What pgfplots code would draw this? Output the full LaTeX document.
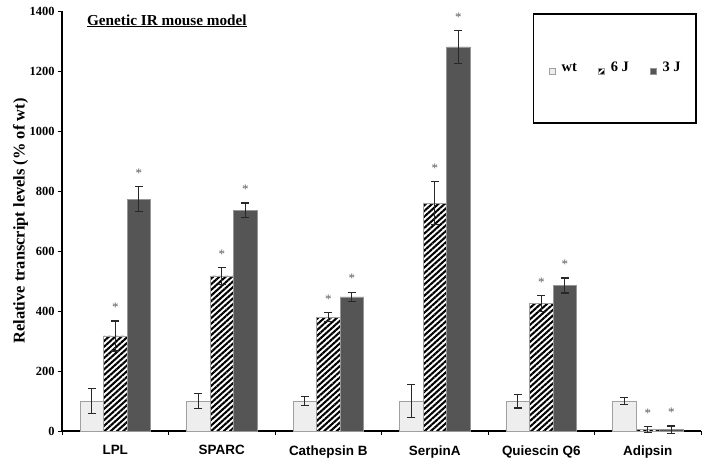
\documentclass[border=0pt]{standalone}
\usepackage{fontspec}
\setmainfont{Liberation Serif}
\newfontfamily\arial{Liberation Sans}
\usepackage{pgfplots}
\usepackage{pgfplotstable}
\pgfplotsset{compat=1.18}
\usetikzlibrary{patterns.meta}

\definecolor{wtfill}{RGB}{238,238,238}
\definecolor{wtdraw}{RGB}{160,160,160}
\definecolor{jfill}{RGB}{85,85,85}
\definecolor{jdraw}{RGB}{150,150,150}
\definecolor{errc}{RGB}{40,40,40}
\definecolor{starc}{RGB}{90,90,90}

% x = group centre, y = % of wt, err = error bar half length
\pgfplotstableread{
x   y    err
0.5 100  42
1.5 100  24
2.5 100  15
3.5 100  56
4.5 100  23
5.5 100  12
}\wt
\pgfplotstableread{
x   y    err
0.5 317  50
1.5 517  28
2.5 380  14
3.5 760  72
4.5 425  27
5.5 5    9
}\sixj
\pgfplotstableread{
x   y    err
0.5 773  42
1.5 736  24
2.5 447  16
3.5 1280 55
4.5 485  25
5.5 5    12
}\threej

\pgfplotsset{
  sqlegend/.style={legend image code/.code={
    \draw[##1, line width=0.8bp] (0bp,-3.3bp) rectangle (6.5bp,3.3bp);}},
  errs/.style={error bars/.cd, y dir=both, y explicit,
    error bar style={errc, line width=1.2bp},
    error mark options={rotate=90, mark size=4bp, errc, line width=1.2bp}},
  stars/.style={nodes near coords={*},
    visualization depends on={\thisrow{err}\as\erv},
    nodes near coords style={font=\fontsize{13}{13}\selectfont, text=starc,
      inner sep=0pt, anchor=south, yshift=0.3bp*\erv+9bp}},
}

\begin{document}
\begin{tikzpicture}
\begin{axis}[
  name=ax,
  scale only axis, width=639bp, height=420bp,
  xmin=0, xmax=6, ymin=0, ymax=1400,
  ybar=0pt, bar width=23.5bp,
  axis lines*=left, axis line style={-, line width=1.3bp, black},
  xtick={0,1,2,3,4,5,6}, xticklabels={},
  extra x ticks={0.5,1.5,2.5,3.5,4.5,5.5},
  extra x tick labels={LPL,SPARC,Cathepsin B,SerpinA,Quiescin Q6,Adipsin},
  extra x tick style={major tick length=0pt,
    xticklabel style={font=\arial\bfseries\fontsize{13.5}{13.5}\selectfont, yshift=-11bp}},
  ytick={0,200,400,600,800,1000,1200,1400},
  tick align=outside, major tick length=4bp,
  tick style={black, line width=0.8bp},
  /pgf/number format/assume math mode=true,
  /pgf/number format/1000 sep={},
  yticklabel style={font=\bfseries\fontsize{12.5}{12.5}\selectfont},
  ylabel={Relative transcript levels (\% of wt)},
  ylabel style={font=\bfseries\fontsize{16.5}{16.5}\selectfont, at={(axis description cs:-0.065,0.5)}, anchor=center},
  title={\underline{Genetic IR mouse model}},
  title style={font=\bfseries\fontsize{15.3}{15.3}\selectfont, at={(axis description cs:0.039,0.978)}, anchor=north west, inner sep=0pt},
  legend columns=3,
  legend style={at={(axis description cs:0.9937,0.995)}, anchor=north east,
    draw=black, line width=1.6bp, inner xsep=15.5bp, inner ysep=48bp,
    font=\bfseries\fontsize{14.5}{14.5}\selectfont,
    nodes={inner sep=0pt, anchor=base west},
    /tikz/every odd column/.append style={column sep=5.5bp},
    /tikz/every even column/.append style={column sep=21bp}},
  clip=false,
]
\addplot[fill=wtfill, draw=wtdraw, line width=0.8bp, sqlegend, errs]
  table[x=x, y=y, y error=err] {\wt};
\addplot[fill=white, draw=wtdraw, line width=0.8bp, sqlegend,
  postaction={pattern={Lines[angle=42, distance=4.2bp, line width=2.05bp]}, pattern color=black},
  stars, errs]
  table[x=x, y=y, y error=err] {\sixj};
\addplot[fill=jfill, draw=jdraw, line width=0.8bp, sqlegend, stars, errs]
  table[x=x, y=y, y error=err] {\threej};
\legend{wt,6 J,3 J}
\end{axis}
\pgfresetboundingbox
\path[use as bounding box] ([xshift=-62bp,yshift=-32bp]ax.south west) rectangle ([xshift=7bp,yshift=11bp]ax.north east);
\end{tikzpicture}
\end{document}
